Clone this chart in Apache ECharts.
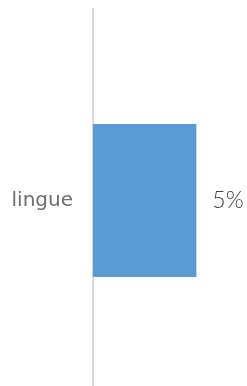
<!DOCTYPE html>
<html>
<head>
<meta charset="utf-8">
<script src="https://cdn.jsdelivr.net/npm/echarts@6/dist/echarts.min.js"></script>
<style>
  html, body { margin: 0; padding: 0; background: #fff; }
  #chart { width: 247px; height: 386px; }
</style>
</head>
<body>
<div id="chart"></div>
<script>
var categories = ['lingue']
var values = [0.05]

var chart = echarts.init(document.getElementById('chart'))
var option = {
    animation: false,
    grid: { left: 93, right: 0, top: 9, height: 383, outerBoundsMode: 'none' },
    xAxis: {
        type: 'value',
        min: 0,
        max: 0.0745,
        show: false
    },
    yAxis: {
        type: 'category',
        data: categories,
        axisLine: { show: true, lineStyle: { color: '#d9d9d9', width: 2 } },
        axisTick: { show: false },
        axisLabel: {
            margin: 20,
            color: '#6e6e6e',
            fontSize: 20,
            fontFamily: 'DejaVu Sans'
        }
    },
    series: [{
        type: 'bar',
        data: values,
        barWidth: 153,
        itemStyle: { color: '#5b9bd5' },
        label: {
            show: true,
            position: 'right',
            distance: 16,
            color: '#404040',
            fontSize: 23,
            fontFamily: 'Lato',
            fontWeight: 300,
            formatter: function (p) { return Math.round(p.value * 100) + '%' }
        }
    }]
}
chart.setOption(option)
</script>
</body>
</html>
